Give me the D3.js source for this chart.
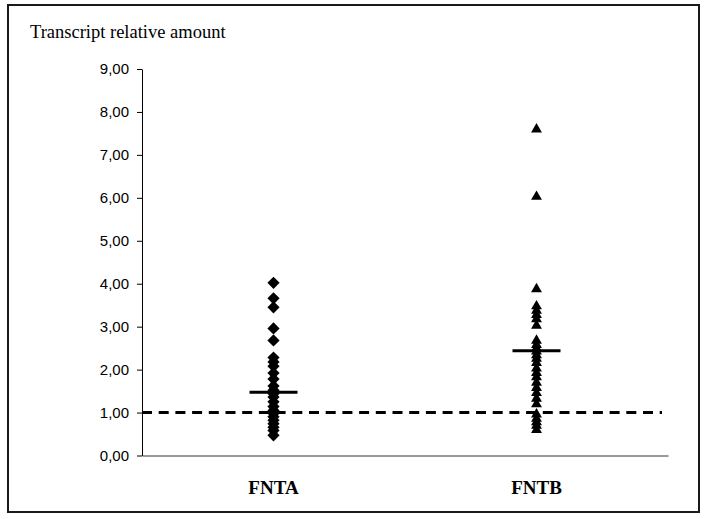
<!DOCTYPE html>
<html><head><meta charset="utf-8">
<script src="https://cdn.jsdelivr.net/npm/d3@7"></script>
<style>body{margin:0;background:#fff}</style>
</head><body>
<svg id="chart" width="705" height="519"></svg>
<script>
const categories = ["FNTA", "FNTB"];
const fntaValues = [4.02, 3.66, 3.45, 2.96, 2.68, 2.28, 2.18, 2.08, 1.92, 1.78, 1.62, 1.52, 1.44, 1.36, 1.25, 1.14, 1.05, 0.98, 0.90, 0.82, 0.74, 0.66, 0.58, 0.47];
const fntbValues = [7.62, 6.05, 3.90, 3.50, 3.40, 3.30, 3.20, 3.05, 2.70, 2.60, 2.52, 2.45, 2.36, 2.28, 2.18, 2.05, 1.95, 1.85, 1.72, 1.60, 1.48, 1.35, 1.22, 0.98, 0.88, 0.80, 0.72, 0.62];
const centralValues = [1.47, 2.44];
const referenceValue = 1.0;
const yTicks = [0, 1, 2, 3, 4, 5, 6, 7, 8, 9];
const yTitle = "Transcript relative amount";

const svg = d3.select("#chart");
// outer frame
svg.append("rect").attr("x", 8).attr("y", 5).attr("width", 691).attr("height", 507)
  .attr("fill", "none").attr("stroke", "#1a1a1a").attr("stroke-width", 2);

const x = d3.scaleBand().domain(categories).range([142, 668]);
const y = d3.scaleLinear().domain([0, 9]).range([455.5, 69]);

const fmt = v => d3.format(".2f")(v).replace(".", ",");

// y axis
const yAxis = svg.append("g").attr("transform", "translate(142,0)")
  .call(d3.axisLeft(y).tickValues(yTicks).tickFormat(fmt).tickSizeInner(5).tickSizeOuter(0).tickPadding(8));
yAxis.select(".domain").attr("stroke", "#000");
yAxis.selectAll(".tick line").attr("stroke", "#000");
yAxis.selectAll("text").attr("font-family", "Liberation Sans, Arial, sans-serif").attr("font-size", 15).attr("fill", "#000");

// x axis
const xAxis = svg.append("g").attr("transform", `translate(0,${y(0)})`)
  .call(d3.axisBottom(x).tickSize(0).tickPadding(25));
xAxis.select(".domain").attr("stroke", "#333");
xAxis.selectAll("text").attr("font-family", "Liberation Serif, Times New Roman, serif")
  .attr("font-size", 19).attr("font-weight", "bold").attr("fill", "#000");

// y title
svg.append("text").attr("x", 30).attr("y", 38).text(yTitle)
  .attr("font-family", "Liberation Serif, Times New Roman, serif").attr("font-size", 18.5).attr("fill", "#000");

// reference dashed line
svg.append("line").attr("x1", 142).attr("x2", 662)
  .attr("y1", y(referenceValue)).attr("y2", y(referenceValue))
  .attr("stroke", "#000").attr("stroke-width", 3).attr("stroke-dasharray", "10,6.7");

const cx = c => x(c) + x.bandwidth() / 2;

// FNTA diamonds
svg.append("g").selectAll("path").data(fntaValues).join("path")
  .attr("transform", d => `translate(${cx("FNTA")},${y(d)})`)
  .attr("d", d3.symbol(d3.symbolDiamond2, 95)())
  .attr("fill", "#000");

// FNTB triangles
svg.append("g").selectAll("path").data(fntbValues).join("path")
  .attr("transform", d => `translate(${cx("FNTB")},${y(d) + 1})`)
  .attr("d", d3.symbol(d3.symbolTriangle2, 85)())
  .attr("fill", "#000");

// central lines
svg.append("g").selectAll("line").data(centralValues).join("line")
  .attr("x1", (d, i) => cx(categories[i]) - 24).attr("x2", (d, i) => cx(categories[i]) + 24)
  .attr("y1", d => y(d)).attr("y2", d => y(d))
  .attr("stroke", "#000").attr("stroke-width", 3);
</script>
</body></html>
